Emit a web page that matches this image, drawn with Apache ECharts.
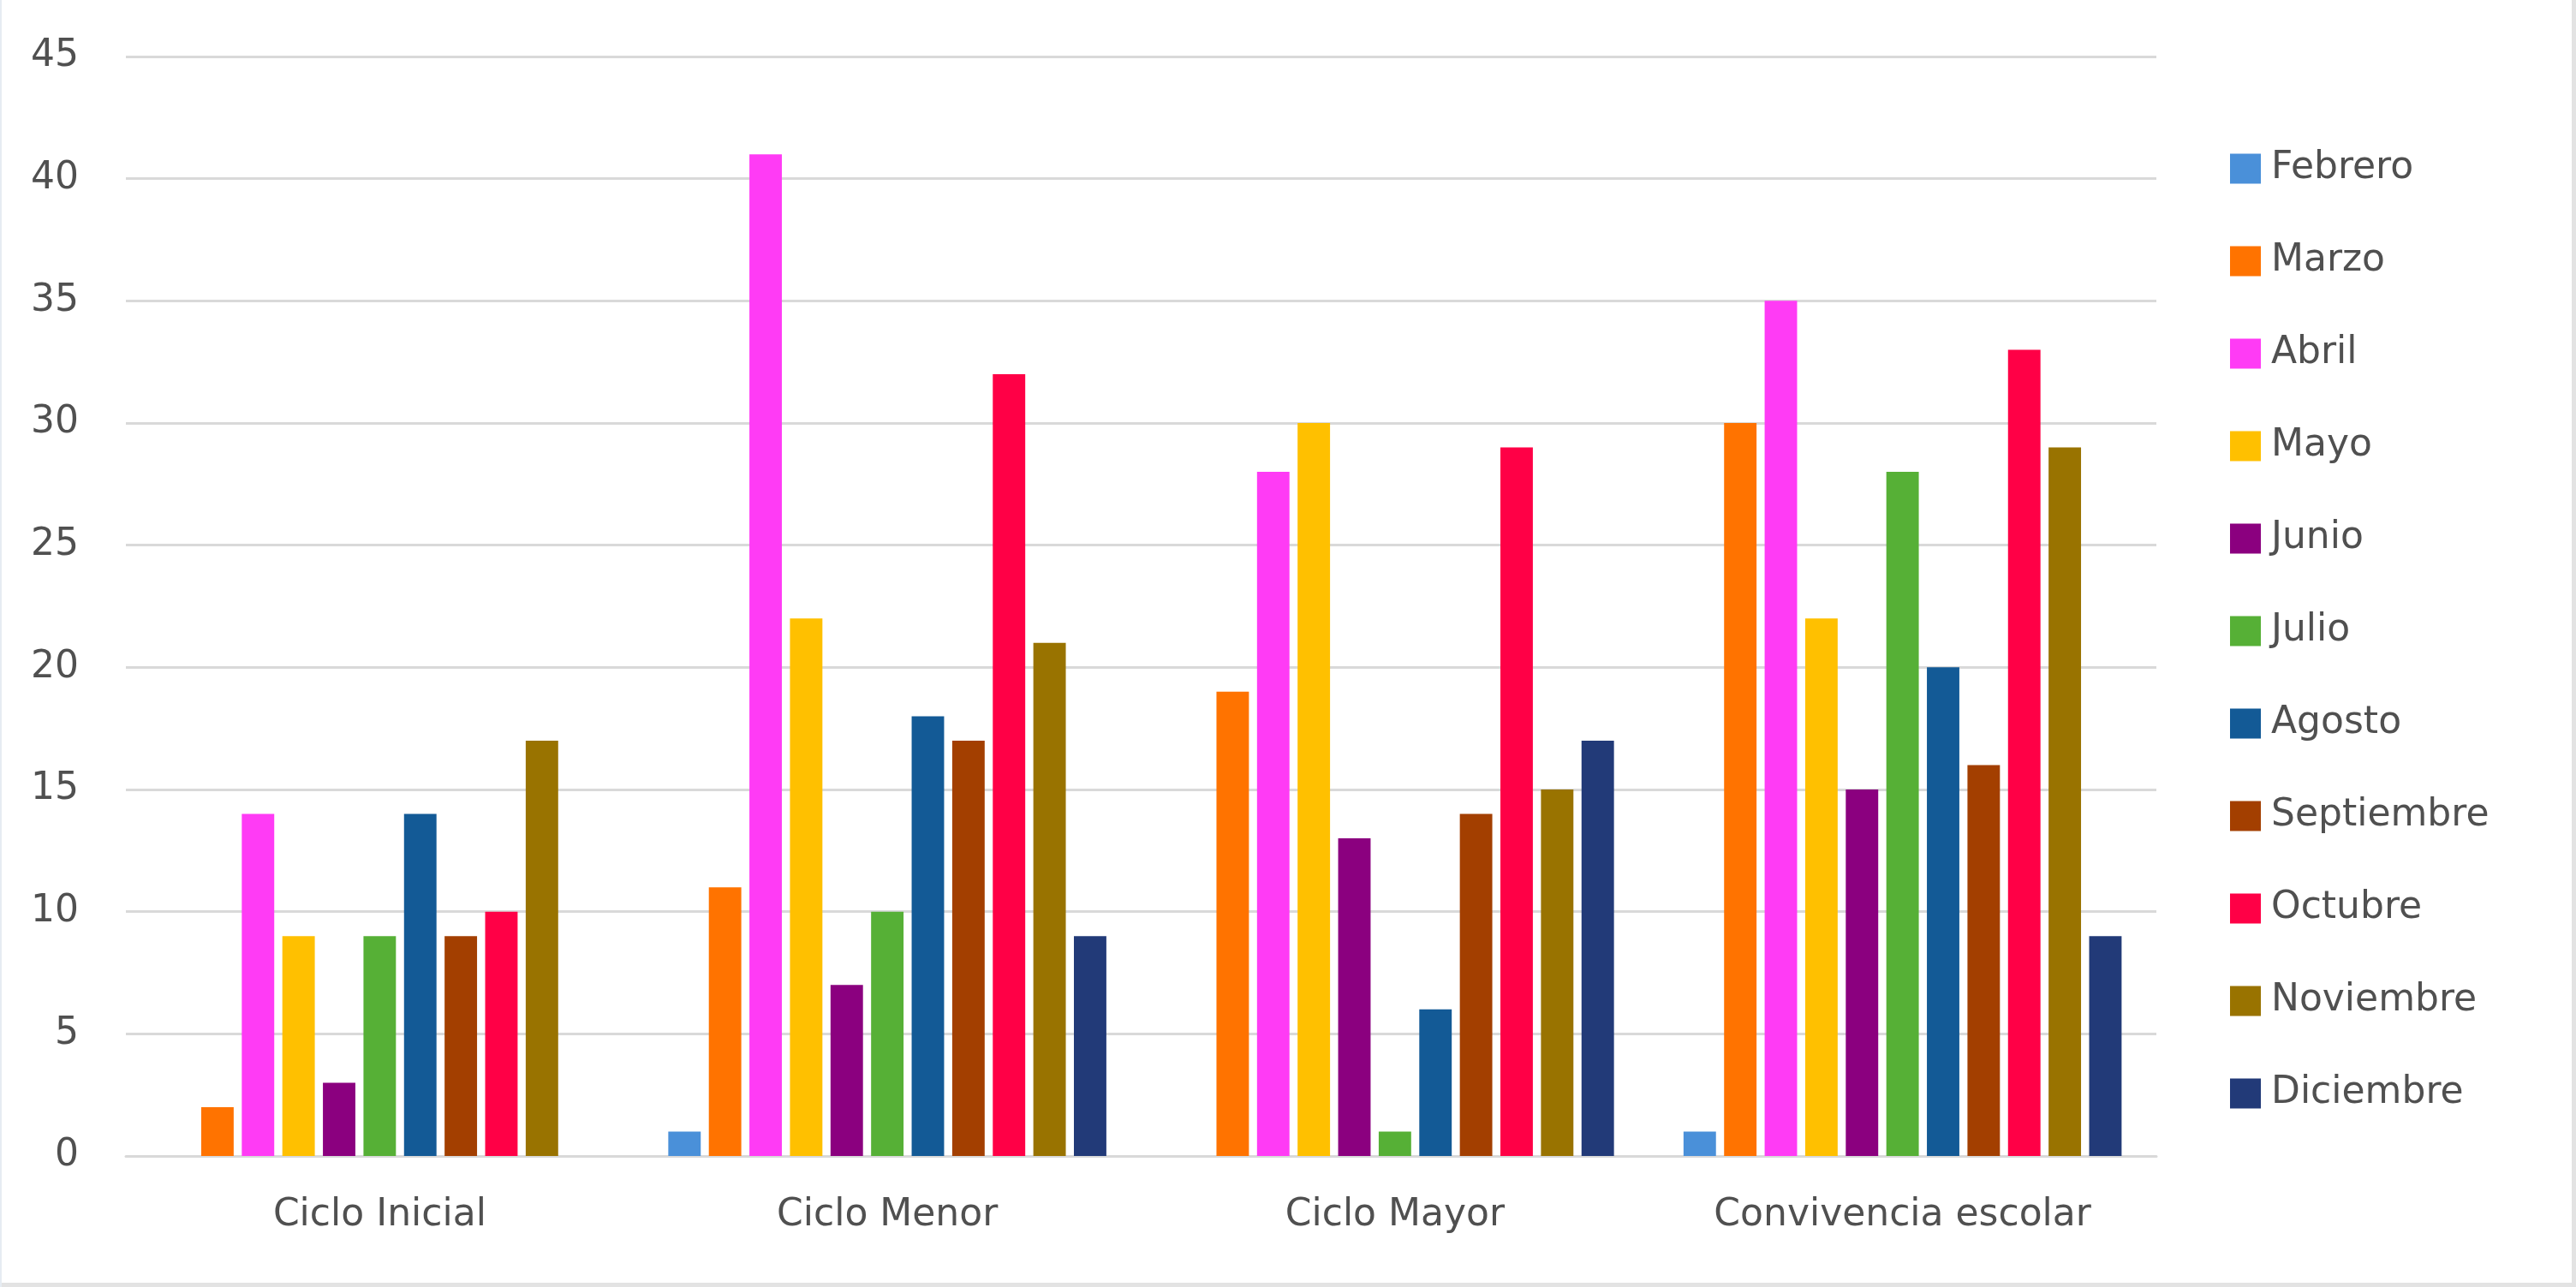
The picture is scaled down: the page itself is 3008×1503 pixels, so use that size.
<!DOCTYPE html>
<html>
<head>
<meta charset="utf-8">
<script src="https://cdn.jsdelivr.net/npm/echarts@6/dist/echarts.min.js"></script>
<style>
  html, body { margin: 0; padding: 0; background: #fff; }
  #chart { width: 3008px; height: 1503px; }
</style>
</head>
<body>
<div id="chart"></div>
<script>
// categorias del eje x
const categorias = ['Ciclo Inicial', 'Ciclo Menor', 'Ciclo Mayor', 'Convivencia escolar']
const meses = ['Febrero', 'Marzo', 'Abril', 'Mayo', 'Junio', 'Julio', 'Agosto', 'Septiembre', 'Octubre', 'Noviembre', 'Diciembre']
const colores = ['#4A90D9', '#FF7300', '#FF3BF5', '#FFC000', '#8B007F', '#56B036', '#135A96', '#A33F00', '#FF0046', '#997300', '#223A78']

// valores por mes (uno por categoria)
const febrero = [0, 1, 0, 1]
const marzo = [2, 11, 19, 30]
const abril = [14, 41, 28, 35]
const mayo = [9, 22, 30, 22]
const junio = [3, 7, 13, 15]
const julio = [9, 10, 1, 28]
const agosto = [14, 18, 6, 20]
const septiembre = [9, 17, 14, 16]
const octubre = [10, 32, 29, 33]
const noviembre = [17, 21, 15, 29]
const diciembre = [0, 9, 17, 9]

const valores = [febrero, marzo, abril, mayo, junio, julio, agosto, septiembre, octubre, noviembre, diciembre]

const yTicks = { min: 0, max: 45, interval: 5 }

const fuente = 'DejaVu Sans'
const gris = '#505050'

let series = meses.map((m, i) => {
  return {
    name: m,
    type: 'bar',
    data: valores[i],
    barGap: '25%',
    barCategoryGap: '13.7%',
    itemStyle: { color: colores[i] }
  }
})

let option = {
  animation: false,
  color: colores,
  grid: {
    left: 147,
    right: 3008 - 2518,
    top: 66,
    bottom: 1503 - 1350,
    containLabel: false
  },
  legend: {
    orient: 'vertical',
    left: 2604,
    top: 175,
    padding: 0,
    icon: 'rect',
    itemWidth: 36,
    itemHeight: 35,
    itemGap: 64,
    data: meses,
    textStyle: {
      fontFamily: fuente,
      fontSize: 44,
      color: gris,
      padding: [0, 0, 0, 7]
    }
  },
  xAxis: {
    type: 'category',
    data: categorias,
    axisLine: { lineStyle: { color: '#d9d9d9', width: 3 } },
    axisTick: { show: false },
    axisLabel: {
      fontFamily: fuente,
      fontSize: 44,
      color: gris,
      margin: 48,
      lineHeight: 44
    }
  },
  yAxis: {
    type: 'value',
    min: yTicks.min,
    max: yTicks.max,
    interval: yTicks.interval,
    axisLine: { show: false },
    axisTick: { show: false },
    splitLine: { lineStyle: { color: '#d9d9d9', width: 3 } },
    axisLabel: {
      fontFamily: fuente,
      fontSize: 44,
      color: gris,
      margin: 55,
      padding: [0, 0, 14, 0]
    }
  },
  graphic: [
    {
      type: 'line', silent: true,
      shape: { x1: 3005.5, y1: 0, x2: 3005.5, y2: 1503 },
      style: { stroke: '#e3e3e3', lineWidth: 5 }
    },
    {
      type: 'line', silent: true,
      shape: { x1: 0, y1: 1500.5, x2: 3008, y2: 1500.5 },
      style: { stroke: '#e3e3e3', lineWidth: 5 }
    },
    {
      type: 'line', silent: true,
      shape: { x1: 1, y1: 0, x2: 1, y2: 1503 },
      style: { stroke: '#e6ecf2', lineWidth: 2 }
    }
  ],
  series: series
}

let myChart = echarts.init(document.getElementById('chart'))
myChart.setOption(option)
</script>
</body>
</html>
